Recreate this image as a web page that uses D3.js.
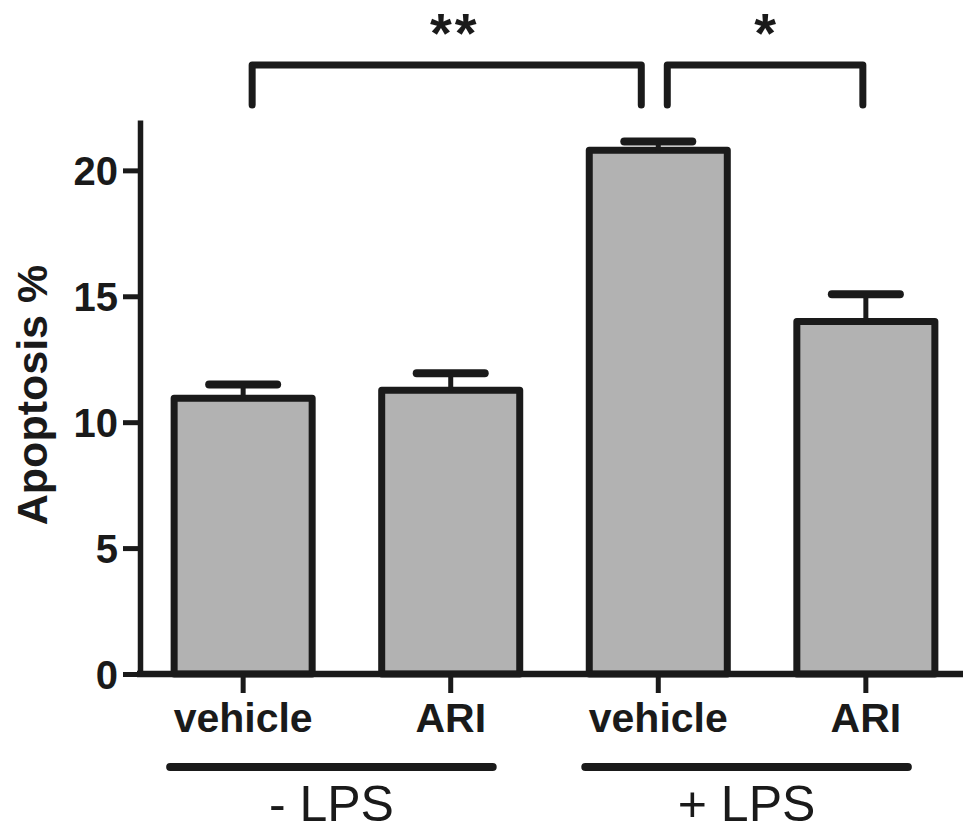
<!DOCTYPE html>
<html>
<head>
<meta charset="utf-8">
<script src="https://cdn.jsdelivr.net/npm/d3@7"></script>
<style>
  body { margin: 0; background: #fff; }
  svg { display: block; }
  text { font-family: "Liberation Sans", Arial, sans-serif; fill: #1a1a1a; }
</style>
</head>
<body>
<script>
// values
var treatments = ["vehicle", "ARI", "vehicle", "ARI"];
var apoptosis = [10.95, 11.27, 20.8, 14.0];
var sem = [0.55, 0.67, 0.35, 1.08];
var yTicks = [0, 5, 10, 15, 20];
var groups = ["- LPS", "+ LPS"];
var groupMembers = [[0, 1], [2, 3]];
var comparisons = [[0, 2], [2, 3]];
var stars = ["**", "*"];

var ink = "#1a1a1a";
var width = 965, height = 832;

var svg = d3.select("body").append("svg")
    .attr("width", width)
    .attr("height", height);

var ids = d3.range(treatments.length);

var x = d3.scaleBand()
    .domain(ids)
    .range([143, 966])
    .paddingInner(0.335)
    .paddingOuter(0.15);

var y = d3.scaleLinear()
    .domain([0, 22])
    .range([674, 120]);

function xc(i) { return x(i) + x.bandwidth() / 2; }

// bars
svg.append("g").selectAll("rect")
    .data(ids)
    .join("rect")
      .attr("x", i => x(i))
      .attr("y", i => y(apoptosis[i]))
      .attr("width", x.bandwidth())
      .attr("height", i => y(0) - y(apoptosis[i]))
      .attr("fill", "#b2b2b2")
      .attr("stroke", ink)
      .attr("stroke-width", 7)
      .attr("stroke-linejoin", "round");

// error bars (upper only)
var err = svg.append("g").attr("stroke", ink);
err.selectAll("line.stem")
    .data(ids)
    .join("line")
      .attr("class", "stem")
      .attr("x1", xc).attr("x2", xc)
      .attr("y1", i => y(apoptosis[i]))
      .attr("y2", i => y(apoptosis[i] + sem[i]))
      .attr("stroke-width", 5);
err.selectAll("line.cap")
    .data(ids)
    .join("line")
      .attr("class", "cap")
      .attr("x1", i => xc(i) - 34).attr("x2", i => xc(i) + 34)
      .attr("y1", i => y(apoptosis[i] + sem[i]))
      .attr("y2", i => y(apoptosis[i] + sem[i]))
      .attr("stroke-width", 8)
      .attr("stroke-linecap", "round");

// y axis
var yAxis = svg.append("g")
    .attr("transform", "translate(140,0)")
    .call(d3.axisLeft(y).tickValues(yTicks).tickSize(17).tickSizeOuter(0).tickPadding(5));
yAxis.select(".domain").attr("stroke", ink).attr("stroke-width", 5.5);
yAxis.selectAll(".tick line").attr("stroke", ink).attr("stroke-width", 5);
yAxis.selectAll(".tick text")
    .attr("font-size", 40)
    .attr("font-weight", "bold")
    .attr("fill", ink)
    .attr("dy", "0.36em")
    .style("font-family", "'Liberation Sans', Arial, sans-serif");

// x axis
svg.append("line")
    .attr("x1", 137).attr("x2", 963)
    .attr("y1", y(0)).attr("y2", y(0))
    .attr("stroke", ink).attr("stroke-width", 6.5);
var xAxis = svg.append("g")
    .attr("transform", "translate(0," + y(0) + ")")
    .call(d3.axisBottom(x).tickFormat(i => treatments[i]).tickSize(19).tickSizeOuter(0).tickPadding(10));
xAxis.select(".domain").remove();
xAxis.selectAll(".tick line").attr("stroke", ink).attr("stroke-width", 5);
xAxis.selectAll(".tick text")
    .attr("font-size", 41)
    .attr("font-weight", "bold")
    .attr("fill", ink)
    .style("font-family", "'Liberation Sans', Arial, sans-serif");

// y label
svg.append("text")
    .attr("transform", "translate(47,395) rotate(-90)")
    .attr("text-anchor", "middle")
    .attr("font-size", 43)
    .attr("font-weight", "bold")
    .text("Apoptosis %");

// group lines and labels
groups.forEach(function(g, k) {
    var a = groupMembers[k][0], b = groupMembers[k][1];
    var x1 = xc(a) - 73, x2 = xc(b) + 42;
    svg.append("line")
        .attr("x1", x1).attr("x2", x2)
        .attr("y1", 767).attr("y2", 767)
        .attr("stroke", ink).attr("stroke-width", 8)
        .attr("stroke-linecap", "round");
    svg.append("text")
        .attr("x", (x1 + x2) / 2)
        .attr("y", 821)
        .attr("text-anchor", "middle")
        .attr("font-size", 50)
        .text(g);
});

// significance brackets
comparisons.forEach(function(c, k) {
    var shared = comparisons.some((d, j) => j !== k && d[0] === c[1]);
    var x1 = xc(c[0]) + 9, x2 = xc(c[1]) - (shared ? 17 : 3);
    svg.append("path")
        .attr("d", "M" + x1 + ",105V65H" + x2 + "V105")
        .attr("fill", "none")
        .attr("stroke", ink).attr("stroke-width", 7)
        .attr("stroke-linecap", "round")
        .attr("stroke-linejoin", "round");
    svg.append("text")
        .attr("x", (x1 + x2) / 2 + (k === 0 ? 8 : 0))
        .attr("y", 52)
        .attr("text-anchor", "middle")
        .attr("font-size", 56)
        .attr("font-weight", "bold")
        .attr("letter-spacing", k === 0 ? 3 : 0)
        .text(stars[k]);
});
</script>
</body>
</html>
